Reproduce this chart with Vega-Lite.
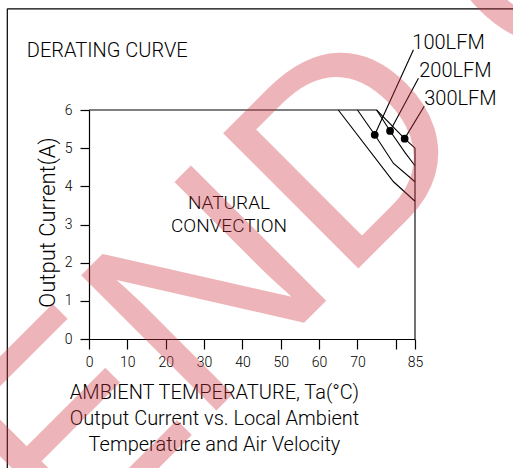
{
  "$schema": "https://vega.github.io/schema/vega-lite/v6.json",
  "width": 326,
  "height": 229,
  "autosize": {"type": "none"},
  "padding": {"left": 89, "top": 110, "right": 98, "bottom": 129},
  "background": "white",
  "config": {
    "view": {"stroke": null},
    "font": "Roboto",
    "axis": {"domainColor": "black", "tickColor": "black", "labelColor": "black", "titleColor": "black", "grid": false, "labelFont": "Roboto", "titleFont": "Roboto", "titleFontWeight": 300, "labelFontWeight": 300, "domainWidth": 1.2, "tickWidth": 1.2}
  },
  "datasets": {
    "curves": [
      {"series": "NATURAL", "i": 1, "x": 65, "y": 6},
      {"series": "NATURAL", "i": 2, "x": 79.4, "y": 4.12},
      {"series": "NATURAL", "i": 3, "x": 85, "y": 3.61},
      {"series": "100LFM", "i": 1, "x": 70, "y": 6},
      {"series": "100LFM", "i": 2, "x": 74.5, "y": 5.35},
      {"series": "100LFM", "i": 3, "x": 79.4, "y": 4.6},
      {"series": "100LFM", "i": 4, "x": 85, "y": 4.12},
      {"series": "200LFM", "i": 1, "x": 75, "y": 6},
      {"series": "200LFM", "i": 2, "x": 78.5, "y": 5.45},
      {"series": "200LFM", "i": 3, "x": 82.5, "y": 4.87},
      {"series": "200LFM", "i": 4, "x": 85, "y": 4.54},
      {"series": "300LFM", "i": 1, "x": 0, "y": 6},
      {"series": "300LFM", "i": 2, "x": 75, "y": 6},
      {"series": "300LFM", "i": 3, "x": 82.3, "y": 5.25},
      {"series": "300LFM", "i": 4, "x": 85, "y": 5.0},
      {"series": "300LFM", "i": 5, "x": 85, "y": 0}
    ],
    "dots": [
      {"series": "100LFM", "x": 74.5, "y": 5.35},
      {"series": "200LFM", "x": 78.5, "y": 5.45},
      {"series": "300LFM", "x": 82.3, "y": 5.25}
    ],
    "leaders": [
      {"series": "100LFM", "i": 1, "x": 74.5, "y": 5.35},
      {"series": "100LFM", "i": 2, "x": 84.6, "y": 7.58},
      {"series": "200LFM", "i": 1, "x": 78.5, "y": 5.45},
      {"series": "200LFM", "i": 2, "x": 85.9, "y": 6.83},
      {"series": "300LFM", "i": 1, "x": 82.3, "y": 5.25},
      {"series": "300LFM", "i": 2, "x": 87.4, "y": 6.1}
    ],
    "labels": [
      {"label": "100LFM", "x": 84.3, "y": 7.76},
      {"label": "200LFM", "x": 86.1, "y": 7.03},
      {"label": "300LFM", "x": 87.4, "y": 6.29}
    ],
    "notes": [
      {"label": "NATURAL", "x": 36.5, "y": 3.56},
      {"label": "CONVECTION", "x": 36.5, "y": 2.96}
    ],
    "heading": [
      {"label": "DERATING CURVE", "x": -16.2, "y": 7.55}
    ],
    "frame": [
      {"x": -21.3, "x2": -21.3, "y": 8.65, "y2": -5},
      {"x": -21.3, "x2": 115, "y": 8.65, "y2": 8.65}
    ],
    "stamp": [
      {"label": "END OF LIFE", "x": -5.17, "y": -5.73}
    ]
  },
  "encoding": {
    "x": {
      "field": "x", "type": "quantitative",
      "scale": {"domain": [0, 85], "nice": false, "zero": false},
      "axis": {
        "values": [0, 10, 20, 30, 40, 50, 60, 70, 80, 85],
        "labelExpr": "datum.value == 80 ? '' : datum.label",
        "tickSize": 10, "labelFontSize": 14, "labelPadding": 6, "labelDx": -5,
        "labelFlush": false, "labelOverlap": false,
        "title": ["AMBIENT TEMPERATURE, Ta(°C)", "Output Current vs. Local Ambient", "Temperature and Air Velocity"],
        "titleFontSize": 20, "titleFontWeight": 300, "titleLineHeight": 26, "titleX": 125, "titleY": 43, "titleBaseline": "top", "titleAlign": "center", "titleAnchor": "start"
      }
    },
    "y": {
      "field": "y", "type": "quantitative",
      "scale": {"domain": [0, 6], "nice": false, "zero": false},
      "axis": {
        "values": [0, 1, 2, 3, 4, 5, 6],
        "tickSize": 9, "labelFontSize": 14, "labelPadding": 8,
        "title": "Output Current(A)", "titleFontSize": 22, "titleFontWeight": 300, "titleAngle": -90,
        "titleX": -42, "titleY": 112, "titleBaseline": "middle", "titleAlign": "center", "titleAnchor": "start"
      }
    }
  },
  "layer": [
    {
      "data": {"name": "frame"},
      "mark": {"type": "rule", "color": "black", "strokeWidth": 1.2},
      "encoding": {"x2": {"field": "x2"}, "y2": {"field": "y2"}}
    },
    {
      "data": {"name": "curves"},
      "mark": {"type": "line", "color": "black", "strokeWidth": 1.1},
      "encoding": {"detail": {"field": "series"}, "order": {"field": "i", "type": "quantitative"}}
    },
    {
      "data": {"name": "leaders"},
      "mark": {"type": "line", "color": "black", "strokeWidth": 1.1},
      "encoding": {"detail": {"field": "series"}, "order": {"field": "i", "type": "quantitative"}}
    },
    {
      "data": {"name": "dots"},
      "mark": {"type": "point", "filled": true, "color": "black", "size": 60, "opacity": 1}
    },
    {
      "data": {"name": "labels"},
      "mark": {"type": "text", "align": "left", "baseline": "middle", "fontSize": 20, "fontWeight": 300, "color": "black"},
      "encoding": {"text": {"field": "label"}}
    },
    {
      "data": {"name": "notes"},
      "mark": {"type": "text", "align": "center", "baseline": "middle", "fontSize": 19, "fontWeight": 300, "color": "black"},
      "encoding": {"text": {"field": "label"}}
    },
    {
      "data": {"name": "heading"},
      "mark": {"type": "text", "align": "left", "baseline": "middle", "fontSize": 20, "fontWeight": 300, "color": "black"},
      "encoding": {"text": {"field": "label"}}
    },
    {
      "data": {"name": "stamp"},
      "mark": {"type": "text", "align": "left", "baseline": "alphabetic", "angle": -45, "font": "Liberation Sans", "fontSize": 278, "color": "#d0343f", "opacity": 0.36},
      "encoding": {"text": {"field": "label"}}
    }
  ]
}
